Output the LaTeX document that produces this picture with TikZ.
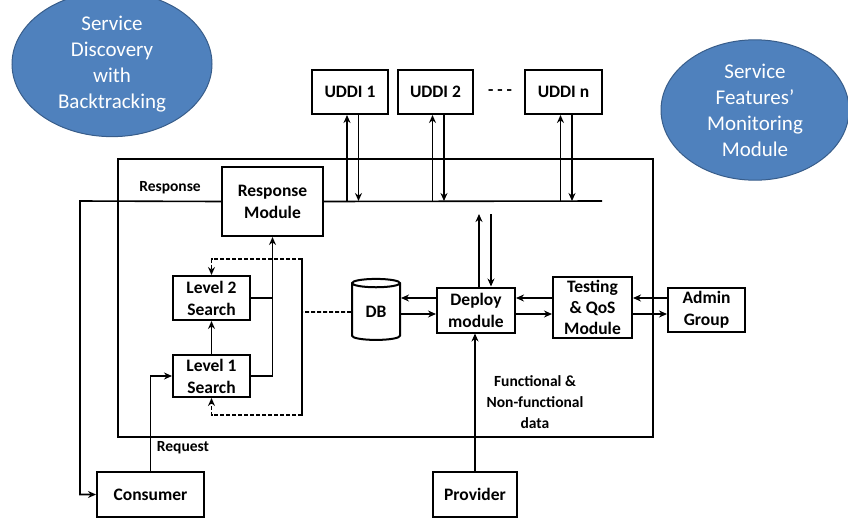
\documentclass[tikz,border=0pt]{standalone}
\usepackage{fontspec}
\setmainfont{Carlito}
\usetikzlibrary{shapes.geometric,arrows.meta}
\definecolor{ellfill}{RGB}{79,129,189}
\definecolor{elldraw}{RGB}{56,93,138}
\begin{document}
\begin{tikzpicture}[x=1pt, y=-1pt, line width=1.6pt,
   blk/.style={draw=black, line width=2pt, inner sep=0pt, align=center, font=\fontsize{17.5}{22}\selectfont\bfseries},
   bubble/.style={ellipse, draw=elldraw, line width=1pt, fill=ellfill, text=white, align=center, font=\fontsize{21}{26}\selectfont},
   lbl/.style={font=\fontsize{15.5}{21}\selectfont\bfseries, align=center},
   arr/.style={-{Stealth[length=8pt,width=7pt]}},
   dashline/.style={dash pattern=on 4pt off 2pt}]
	  \useasboundingbox (0,0) rectangle (848,520);

	  \node [bubble, minimum width=200, minimum height=118] (disc) at (112,64) {Service\\Discovery\\with\\Backtracking};
	  \node [bubble, minimum width=188, minimum height=112] (mon) at (755,110) {Service\\Features’\\Monitoring\\Module};

	  \node [draw=black, minimum width=535, minimum height=278] (sys) at (385.5,298) {};

	  \node [blk, minimum width=76, minimum height=44] (u1) at (350,92) {UDDI 1};
	  \node [blk, minimum width=75, minimum height=44] (u2) at (435.5,92) {UDDI 2};
	  \node [blk, minimum width=77, minimum height=44] (un) at (563.5,92) {UDDI n};
	  \node [font=\fontsize{17.5}{22}\selectfont\bfseries] (dots) at (500,93) {- - -};

	  \node [blk, minimum width=101, minimum height=69] (resp) at (272.5,201.5) {Response\\Module};
	  \node [blk, minimum width=77, minimum height=44] (lv2) at (211.5,298) {Level 2\\Search};
	  \node [blk, minimum width=77, minimum height=42] (lv1) at (211.5,376) {Level 1\\Search};
	  \node [blk, cylinder, shape border rotate=90, aspect=0.4, minimum width=48, minimum height=61] (db) at (376,312) {DB};
	  \node [blk, minimum width=78, minimum height=45] (dep) at (476,310) {Deploy\\module};
	  \node [blk, minimum width=79, minimum height=61, font=\fontsize{17.5}{21}\selectfont\bfseries] (test) at (592.5,307.5) {Testing\\\& QoS\\Module};
	  \node [blk, minimum width=77, minimum height=44] (admin) at (706.5,310) {Admin\\Group};
	  \node [blk, minimum width=107, minimum height=45] (cons) at (150.5,494.5) {Consumer};
	  \node [blk, minimum width=84, minimum height=45] (prov) at (475,494.5) {Provider};

	  \node [lbl] (resplbl) at (170,188) {Response};
	  \node [lbl] (reqlbl) at (183,448) {Request};
	  \node [lbl] (datalbl) at (535,402) {Functional \&\\Non-functional\\data};

	  \coordinate (busend) at (602,201);
	  \coordinate (rl) at (80,201);
	  \draw (resp.east) -- (busend);
	  \draw [arr] (resp.west) -- (rl) |- (cons.west);

	  \foreach \u/\x in {u1/350, u2/435.5, un/563.5} {
	    \coordinate (up-\u) at (\x-3,201);
	    \coordinate (dn-\u) at (\x+8.5,201);
	    \draw [arr] (up-\u) -- (up-\u |- \u.south);
	    \draw [arr] (dn-\u |- \u.south) -- (dn-\u);
	  }

	  \coordinate (d1) at (479,214);
	  \coordinate (d2) at (491,214);
	  \draw [arr] (dep.north -| d1) -- (d1);
	  \draw [arr] (d2) -- (dep.north -| d2);

	  \coordinate (hi) at (0,298);
	  \coordinate (lo) at (0,314);
	  \foreach \from/\to in {db/dep, dep/test, test/admin} {
	    \draw [arr] (\to.west |- hi) -- (\from.east |- hi);
	    \draw [arr] (\from.east |- lo) -- (\to.west |- lo);
	  }

	  \draw [arr] (prov.north) -- (prov.north |- dep.south);
	  \draw [arr] (cons.north) |- (lv1.west);
	  \draw [arr] (lv1.north) -- (lv2.south);
	  \draw [arr] (lv1.east) -| (resp.south);
	  \draw (lv2.east) -- (lv2.east -| resp.south);

	  \coordinate (dj) at (302,312);
	  \coordinate (dt) at (302,259);
	  \coordinate (dl) at (302,415);
	  \draw [dashline] (db.west) -- (dj);
	  \draw [dashline, arr] (dl) -- (dt) -| (lv2.north);
	  \draw [dashline, arr] (dt) -- (dl) -| (lv1.south);

	\end{tikzpicture}
\end{document}
